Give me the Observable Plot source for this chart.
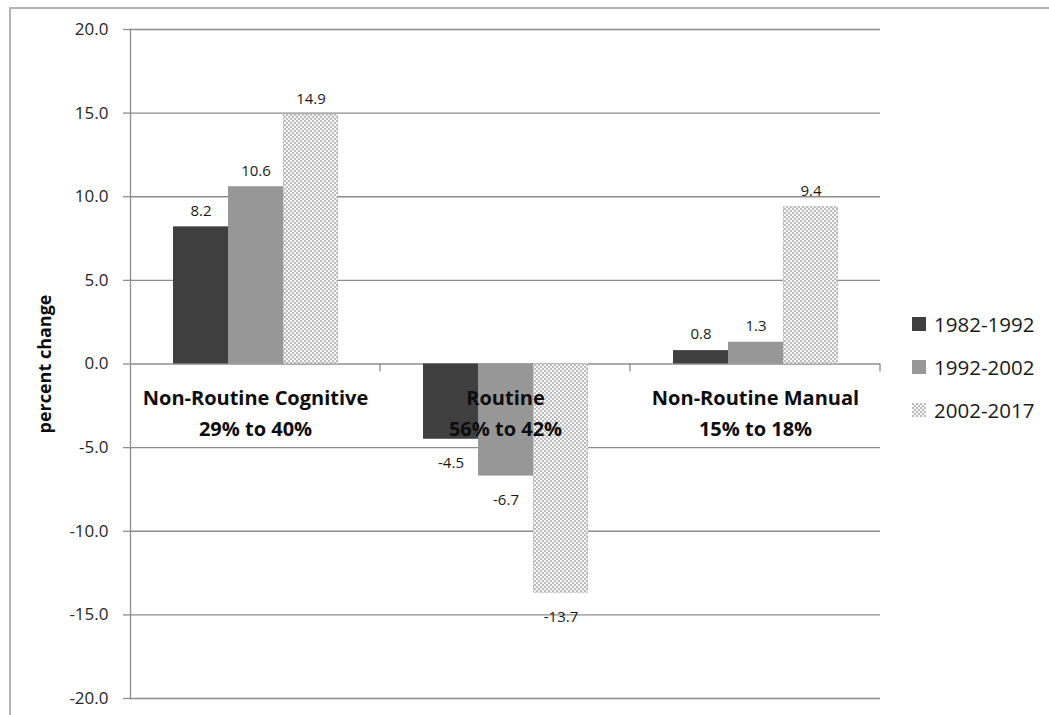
<!DOCTYPE html>
<html>
<head>
<meta charset="utf-8">
<script src="https://cdn.jsdelivr.net/npm/d3@7"></script>
<script src="https://cdn.jsdelivr.net/npm/@observablehq/plot@0.6"></script>
<style>
  html, body { margin: 0; padding: 0; background: #fff; overflow: hidden; }
  #wrap { position: relative; width: 1049px; height: 715px; font-family: "Open Sans", sans-serif; }
  #border { position: absolute; left: 9px; top: 7px; width: 1200px; height: 900px; border-left: 2px solid #b4b4b4; border-top: 2px solid #b4b4b4; }
  #chart { position: absolute; left: 0; top: 0; }
  #legend { position: absolute; left: 912px; top: 302px; }
  .item { display: flex; align-items: center; height: 43px; font-size: 20.5px; color: #1a1a1a; }
  .item svg { margin-right: 8px; }
</style>
</head>
<body>
<div id="wrap">
  <div id="border"></div>
  <div id="chart"></div>
  <div id="legend"></div>
</div>
<script>
// ---- data ----
const categories = ["Non-Routine Cognitive", "Routine", "Non-Routine Manual"];
const categoryShares = ["29% to 40%", "56% to 42%", "15% to 18%"];
const series = ["1982-1992", "1992-2002", "2002-2017"];
const values1982_1992 = [8.2, -4.5, 0.8];
const values1992_2002 = [10.6, -6.7, 1.3];
const values2002_2017 = [14.9, -13.7, 9.4];
const yTicks = [-20, -15, -10, -5, 0, 5, 10, 15, 20];
const seriesFills = ["#3f3f3f", "#979797", "url(#chk)"];

const seriesValues = [values1982_1992, values1992_2002, values2002_2017];
const rows = [];
categories.forEach((c, i) => {
  series.forEach((s, j) => rows.push({cat: c, series: s, value: seriesValues[j][i]}));
});
const catRows = categories.map((c, i) => ({cat: c, label: c + "\n" + categoryShares[i]}));

const plot = Plot.plot({
  width: 1049,
  height: 715,
  marginLeft: 130,
  marginRight: 169,
  marginTop: 29,
  marginBottom: 17,
  style: {fontFamily: "'Open Sans', sans-serif", background: "transparent"},
  fx: {domain: categories, padding: 0, axis: null},
  x: {domain: series, paddingInner: 0, paddingOuter: 0.75, axis: null},
  y: {domain: [-20, 20]},
  color: {domain: series, range: seriesFills},
  marks: [
    Plot.gridY(yTicks, {stroke: "#8c8c8c", strokeOpacity: 1, strokeWidth: 1.3}),
    Plot.barY(rows, {fx: "cat", x: "series", y: "value", fill: "series", inset: 0}),
    Plot.barY(rows.filter(d => d.series === "2002-2017"), {fx: "cat", x: "series", y: "value", fill: "none", stroke: "#b8b8b8", strokeDasharray: "1.5,1.5", inset: 0.5}),
    Plot.frame({anchor: "left", facetAnchor: "left", stroke: "#8c8c8c", strokeWidth: 1.3}),
    Plot.axisY({
      ticks: yTicks, tickSize: 7, tickPadding: 15, tickFormat: d => d.toFixed(1),
      fontSize: 17, fill: "#262626", stroke: "#8c8c8c", strokeWidth: 1.3,
      label: "percent change", labelAnchor: "center", labelOffset: 92, labelArrow: "none"
    }),
    Plot.text(rows.filter(d => d.value >= 0), {fx: "cat", x: "series", y: "value", text: d => d.value.toFixed(1), dy: -16, fontSize: 15, fill: "#1a1a1a"}),
    Plot.text(rows.filter(d => d.value < 0), {fx: "cat", x: "series", y: "value", text: d => d.value.toFixed(1), dy: 24, fontSize: 15, fill: "#1a1a1a"}),
    Plot.text(catRows, {fx: "cat", y: () => 0, text: "label", lineAnchor: "top", dy: 19, lineHeight: 1.55, fontSize: 20, fontWeight: "bold", fill: "#0d0d0d"})
  ]
});

// pattern definition for the checkered series
d3.select(plot).insert("defs", ":first-child").html(
  `<pattern id="chk" width="4" height="4" patternUnits="userSpaceOnUse">
     <rect width="4" height="4" fill="#f6f6f6"/>
     <rect width="2" height="2" fill="#bdbdbd"/>
     <rect x="2" y="2" width="2" height="2" fill="#bdbdbd"/>
   </pattern>`);

// small ticks at category boundaries on the zero line
const fxs = plot.scale("fx"), ys = plot.scale("y");
const y0 = ys.apply(0);
d3.select(plot).append("g").attr("stroke", "#8c8c8c").attr("stroke-width", 1.3)
  .selectAll("line").data(categories).join("line")
  .attr("x1", c => fxs.apply(c) + fxs.bandwidth).attr("x2", c => fxs.apply(c) + fxs.bandwidth)
  .attr("y1", y0).attr("y2", y0 + 8);

// style the y axis label
d3.select(plot).selectAll("text").filter(function() { return this.textContent === "percent change"; })
  .attr("font-weight", "bold").attr("font-size", 18).attr("fill", "#0d0d0d");

document.getElementById("chart").appendChild(plot);

// legend
const legend = d3.select("#legend");
series.forEach((s, i) => {
  const item = legend.append("div").attr("class", "item");
  const sw = item.append("svg").attr("width", 14).attr("height", 14);
  if (i === 2) {
    sw.append("defs").html(`<pattern id="chk2" width="4" height="4" patternUnits="userSpaceOnUse">
      <rect width="4" height="4" fill="#f6f6f6"/><rect width="2" height="2" fill="#bdbdbd"/><rect x="2" y="2" width="2" height="2" fill="#bdbdbd"/></pattern>`);
    sw.append("rect").attr("width", 14).attr("height", 14).attr("fill", "url(#chk2)");
  } else {
    sw.append("rect").attr("width", 14).attr("height", 14).attr("fill", seriesFills[i]);
  }
  item.append("span").text(s);
});
</script>
</body>
</html>
